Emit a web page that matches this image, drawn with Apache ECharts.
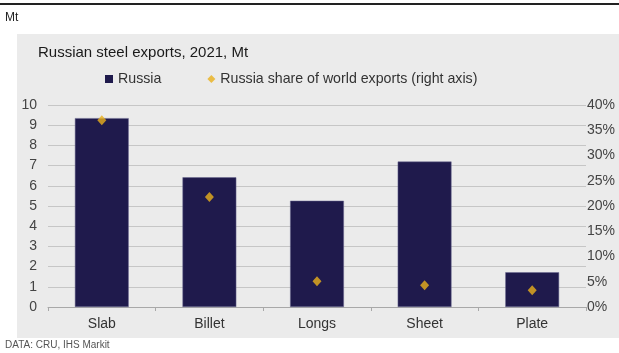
<!DOCTYPE html>
<html>
<head>
<meta charset="utf-8">
<script src="https://cdn.jsdelivr.net/npm/echarts@6/dist/echarts.min.js"></script>
<style>html,body{margin:0;padding:0;background:#fff}#c{width:619px;height:353px}</style>
</head>
<body>
<div id="c"></div>
<script>
const categories = ['Slab', 'Billet', 'Longs', 'Sheet', 'Plate'];
const russiaExports = [9.35, 6.42, 5.26, 7.2, 1.72];
const worldShare = [37.0, 21.8, 5.1, 4.3, 3.3];
const leftTicks = [0, 10, 1];
const rightTicks = [0, 40, 5];

const chart = echarts.init(document.getElementById('c'), null, {renderer: 'canvas'});
const font = 'Liberation Sans, Arial, sans-serif';
chart.setOption({
  backgroundColor: '#ffffff',
  animation: false,
  textStyle: {fontFamily: font},
  graphic: [
    {type: 'rect', shape: {x: 17, y: 34, width: 602, height: 304}, style: {fill: '#ebebeb'}, z: -10},
    {type: 'rect', shape: {x: 0, y: 3, width: 619, height: 2}, style: {fill: '#222'}, z: -5},
    {type: 'text', left: 5, top: 12, style: {text: 'Mt', font: '12px ' + font, fill: '#222'}},
    {type: 'text', left: 5, top: 340, style: {text: 'DATA: CRU, IHS Markit', font: '10px ' + font, fill: '#555'}}
  ],
  title: {
    text: 'Russian steel exports, 2021, Mt',
    left: 33, top: 40,
    textStyle: {fontSize: 15, fontWeight: 'normal', color: '#1a1a1a', fontFamily: font}
  },
  legend: {
    left: 100, top: 67,
    itemWidth: 8, itemHeight: 8, itemGap: 46,
    textStyle: {fontSize: 14.2, color: '#333', fontFamily: font},
    itemStyle: {borderWidth: 0},
    data: [
      {name: 'Russia', icon: 'rect'},
      {name: 'Russia share of world exports (right axis)', icon: 'diamond'}
    ]
  },
  grid: {left: 48, right: 33, top: 105, bottom: 46, containLabel: false},
  xAxis: {
    type: 'category', data: categories,
    axisLine: {lineStyle: {color: '#a8a8a8'}},
    axisTick: {show: true, alignWithLabel: false, length: 4, lineStyle: {color: '#a8a8a8'}},
    axisLabel: {fontSize: 14, color: '#333', margin: 10}
  },
  yAxis: [
    {
      type: 'value', min: leftTicks[0], max: leftTicks[1], interval: leftTicks[2],
      axisLine: {show: false}, axisTick: {show: false},
      axisLabel: {fontSize: 14, color: '#444', margin: 11},
      splitLine: {lineStyle: {color: '#c6c6c6', width: 1}}
    },
    {
      type: 'value', min: rightTicks[0], max: rightTicks[1], interval: rightTicks[2],
      position: 'right',
      axisLine: {show: false}, axisTick: {show: false},
      axisLabel: {fontSize: 14, color: '#444', margin: 1, formatter: '{value}%'},
      splitLine: {show: false}
    }
  ],
  series: [
    {
      name: 'Russia', type: 'bar', data: russiaExports, barWidth: '50%',
      itemStyle: {color: '#1f1a4c', borderColor: '#6a6890', borderWidth: 0.5}
    },
    {
      name: 'Russia share of world exports (right axis)', type: 'scatter', yAxisIndex: 1,
      data: worldShare, symbol: 'diamond', symbolSize: [9, 10],
      itemStyle: {color: '#eab01c'}
    }
  ]
});
</script>
</body>
</html>
